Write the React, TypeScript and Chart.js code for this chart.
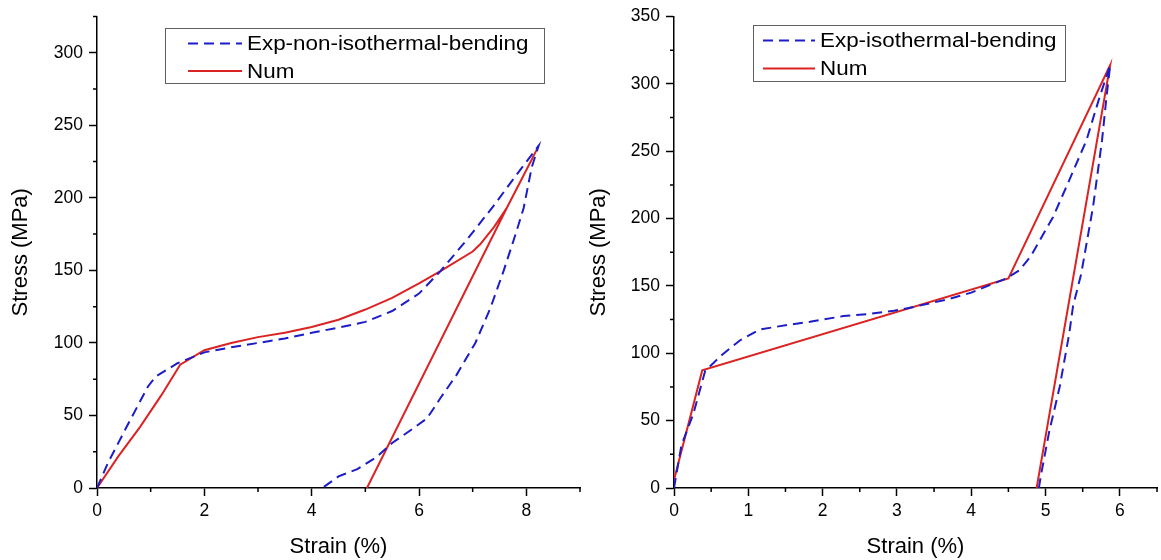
import React, { useEffect, useRef } from 'react';
import { Chart, registerables } from 'chart.js';

Chart.register(...registerables);

// ---------- Left panel: non-isothermal bending ----------
const leftExpStrain = [0, 0.2, 0.55, 0.95, 1.1, 1.5, 2.0, 2.5, 3.0, 3.5, 4.0, 4.5, 5.0, 5.5, 6.0, 6.4, 6.9, 7.39, 7.89, 8.23,
  8.1, 7.95, 7.8, 7.58, 7.33, 7.05, 6.7, 6.4, 6.15, 5.85, 5.5, 5.2, 4.85, 4.5, 4.2];
const leftExpStress = [0, 17, 42, 70, 77, 86, 93.5, 97, 100, 103, 107, 110.5, 114.5, 122, 134, 149.5, 171.5, 194.5, 219.5, 236,
  221, 193, 175, 150, 124, 100, 78, 62, 48, 40, 31, 21, 13, 8, 0];
const leftNumStrain = [0, 0.4, 0.8, 1.2, 1.55, 2.0, 2.5, 3.0, 3.5, 4.0, 4.5, 5.0, 5.5, 6.0, 6.4, 7.0, 7.14, 7.4, 7.64, 7.9, 8.2,
  7.64, 5.03];
const leftNumStress = [0, 22, 42, 64, 85, 95, 100, 104, 107, 111, 116, 123, 131, 141, 149.5, 163, 168, 180, 193.3, 212, 233.6,
  193.3, 0];

// ---------- Right panel: isothermal bending ----------
const rightExpStrain = [0, 0.1, 0.26, 0.42, 0.64, 0.89, 1.16, 1.52, 1.83, 2.28, 2.6, 2.96, 3.14, 3.68, 4.0, 4.47, 4.65, 4.8, 5.1,
  5.32, 5.55, 5.73, 5.87, 5.82, 5.76, 5.64, 5.48, 5.37, 5.32, 5.19, 5.05, 4.94, 4.91];
const rightExpStress = [0, 31.7, 55, 87, 98.5, 109.7, 117.7, 121, 123.4, 127.6, 129, 131.6, 133.4, 140, 145, 155.5, 161.6, 172, 201,
  228.6, 258, 290.6, 314, 290, 258, 209, 159, 135, 115, 75, 42, 10, 0];
const rightNumStrain = [0, 0.38, 4.5, 5.87, 4.88];
const rightNumStress = [6, 87.3, 155.5, 314, 0];

// ---------- Axis ticks ----------
const leftXTicks = [0, 2, 4, 6, 8];
const leftXMinor = [1, 3, 5, 7, 9];
const leftYTicks = [0, 50, 100, 150, 200, 250, 300];
const leftYMinor = [25, 75, 125, 175, 225, 275, 325];
const rightXTicks = [0, 1, 2, 3, 4, 5, 6];
const rightXMinor = [0.5, 1.5, 2.5, 3.5, 4.5, 5.5, 6.5];
const rightYTicks = [0, 50, 100, 150, 200, 250, 300, 350];
const rightYMinor = [25, 75, 125, 175, 225, 275, 325];

const FONT = '"Liberation Sans", Arial, Helvetica, sans-serif';
const BLUE = '#1c1cc8';
const RED = '#dc2323';

const toPoints = (xs: number[], ys: number[]) => xs.map((x, i) => ({ x, y: ys[i] }));

const boxLegend = {
  id: 'boxLegend',
  afterDatasetsDraw(chart: any, _args: any, opts: any) {
    const ctx = chart.ctx;
    ctx.save();
    ctx.fillStyle = '#ffffff';
    ctx.fillRect(opts.x, opts.y, opts.w, opts.h);
    ctx.strokeStyle = '#606060';
    ctx.lineWidth = 1;
    ctx.strokeRect(opts.x + 0.5, opts.y + 0.5, opts.w, opts.h);
    chart.data.datasets.forEach((ds: any, i: number) => {
      const y = opts.rows[i];
      ctx.strokeStyle = ds.borderColor;
      ctx.lineWidth = ds.borderWidth;
      ctx.setLineDash(ds.borderDash || []);
      ctx.beginPath();
      ctx.moveTo(opts.lineX0, y);
      ctx.lineTo(opts.lineX1, y);
      ctx.stroke();
      ctx.setLineDash([]);
      ctx.save();
      ctx.translate(opts.textX, y + 1);
      ctx.scale(opts.stretch, 1);
      ctx.fillStyle = '#000';
      ctx.font = `${opts.fontSize}px ${FONT}`;
      ctx.textBaseline = 'middle';
      ctx.textAlign = 'left';
      ctx.fillText(ds.label, 0, 0);
      ctx.restore();
    });
    ctx.restore();
  },
};

const minorTicks = {
  id: 'minorTicks',
  afterDraw(chart: any, _args: any, opts: any) {
    const ctx = chart.ctx;
    const xs = chart.scales.x;
    const ys = chart.scales.y;
    ctx.save();
    ctx.strokeStyle = '#000';
    ctx.lineWidth = 1.5;
    ctx.beginPath();
    opts.x.forEach((v: number) => {
      const px = xs.getPixelForValue(v);
      ctx.moveTo(px, ys.bottom);
      ctx.lineTo(px, ys.bottom + opts.len);
    });
    opts.y.forEach((v: number) => {
      const py = ys.getPixelForValue(v);
      ctx.moveTo(xs.left, py);
      ctx.lineTo(xs.left - opts.len, py);
    });
    ctx.stroke();
    ctx.restore();
  },
};

type PanelProps = {
  width: number;
  height: number;
  expLabel: string;
  expX: number[];
  expY: number[];
  numX: number[];
  numY: number[];
  xMax: number;
  yMax: number;
  xTicks: number[];
  yTicks: number[];
  xMinor: number[];
  yMinor: number[];
  yAxisWidth: number;
  padRight: number;
  yTitlePad: number;
  legend: any;
};

function Panel(p: PanelProps) {
  const ref = useRef<HTMLCanvasElement>(null);
  useEffect(() => {
    if (!ref.current) return;
    const chart = new Chart(ref.current, {
      type: 'scatter',
      data: {
        datasets: [
          {
            label: p.expLabel,
            data: toPoints(p.expX, p.expY),
            showLine: true,
            borderColor: BLUE,
            backgroundColor: BLUE,
            borderWidth: 2,
            borderDash: [10, 6],
            pointRadius: 0,
            tension: 0,
          },
          {
            label: 'Num',
            data: toPoints(p.numX, p.numY),
            showLine: true,
            borderColor: RED,
            backgroundColor: RED,
            borderWidth: 2,
            pointRadius: 0,
            tension: 0,
          },
        ],
      },
      options: {
        responsive: false,
        animation: false,
        devicePixelRatio: 1,
        layout: { padding: { left: 0, right: p.padRight, top: 16, bottom: 0 } },
        plugins: {
          legend: { display: false },
          tooltip: { enabled: false },
          boxLegend: p.legend,
          minorTicks: { x: p.xMinor, y: p.yMinor, len: 4 },
        } as any,
        scales: {
          x: {
            type: 'linear',
            min: 0,
            max: p.xMax,
            afterBuildTicks: (s: any) => {
              s.ticks = p.xTicks.map((v) => ({ value: v }));
            },
            afterFit: (s: any) => {
              s.height = 72;
            },
            grid: { drawOnChartArea: false, drawTicks: true, tickLength: 8, tickWidth: 1.5, tickColor: '#000' },
            border: { display: true, color: '#000', width: 1.5 },
            ticks: {
              color: '#000',
              font: { family: FONT, size: 17.5 },
              padding: 5,
              maxRotation: 0,
              autoSkip: false,
            },
            title: {
              display: true,
              text: 'Strain (%)',
              color: '#000',
              font: { family: FONT, size: 22 },
              padding: { top: 0, bottom: 0 },
            },
          },
          y: {
            type: 'linear',
            min: 0,
            max: p.yMax,
            afterBuildTicks: (s: any) => {
              s.ticks = p.yTicks.map((v) => ({ value: v }));
            },
            afterFit: (s: any) => {
              s.width = p.yAxisWidth;
            },
            grid: { drawOnChartArea: false, drawTicks: true, tickLength: 8, tickWidth: 1.5, tickColor: '#000' },
            border: { display: true, color: '#000', width: 1.5 },
            ticks: {
              color: '#000',
              font: { family: FONT, size: 17.5 },
              padding: 6,
              autoSkip: false,
            },
            title: {
              display: true,
              text: 'Stress (MPa)',
              color: '#000',
              font: { family: FONT, size: 22 },
              padding: { top: p.yTitlePad, bottom: 0 },
            },
          },
        },
      },
      plugins: [boxLegend, minorTicks],
    });
    return () => chart.destroy();
  }, []);
  return <canvas ref={ref} width={p.width} height={p.height} style={{ display: 'block' }} />;
}

export default function App() {
  return (
    <div style={{ position: 'fixed', left: 0, top: 0, width: 1161, height: 560, background: '#fff', overflow: 'hidden' }}>
      <div style={{ position: 'absolute', left: 0, top: 0 }}>
        <Panel
          width={590}
          height={560}
          expLabel="Exp-non-isothermal-bending"
          expX={leftExpStrain}
          expY={leftExpStress}
          numX={leftNumStrain}
          numY={leftNumStress}
          xMax={9}
          yMax={325}
          xTicks={leftXTicks}
          yTicks={leftYTicks}
          xMinor={leftXMinor}
          yMinor={leftYMinor}
          yAxisWidth={97}
          padRight={10}
          yTitlePad={7.5}
          legend={{ x: 165, y: 28, w: 379, h: 55, lineX0: 188, lineX1: 242, textX: 247, rows: [43.5, 71], fontSize: 20, stretch: 1.12 }}
        />
      </div>
      <div style={{ position: 'absolute', left: 580, top: 0 }}>
        <Panel
          width={581}
          height={560}
          expLabel="Exp-isothermal-bending"
          expX={rightExpStrain}
          expY={rightExpStress}
          numX={rightNumStrain}
          numY={rightNumStress}
          xMax={6.5}
          yMax={350}
          xTicks={rightXTicks}
          yTicks={rightYTicks}
          xMinor={rightXMinor}
          yMinor={rightYMinor}
          yAxisWidth={94}
          padRight={4}
          yTitlePad={5.5}
          legend={{ x: 173, y: 25, w: 312, h: 56, lineX0: 183, lineX1: 235, textX: 240, rows: [40.5, 68.5], fontSize: 20, stretch: 1.12 }}
        />
      </div>
    </div>
  );
}
